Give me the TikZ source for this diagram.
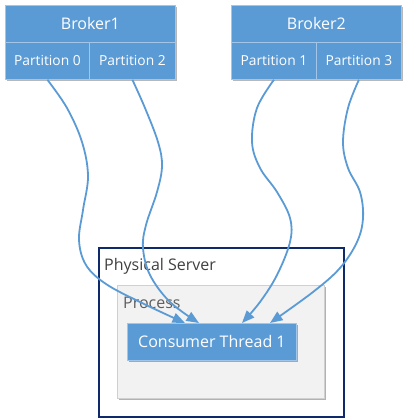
\documentclass[tikz,border=0pt]{standalone}
\usepackage{fontspec}
\setmainfont{Open Sans}
\usetikzlibrary{arrows.meta,shadows,calc}
\definecolor{ofblue}{HTML}{5B9BD5}
\definecolor{edgeblue}{HTML}{A3C6E8}
\definecolor{navy}{HTML}{0F2A6B}
\definecolor{procfill}{HTML}{F2F2F2}
\definecolor{procedge}{HTML}{D0D0D0}
\definecolor{txtgray}{HTML}{404040}
\begin{document}
\begin{tikzpicture}[x=1pt,y=-1pt,
  bluebox/.style={draw=edgeblue, fill=ofblue, line width=0.8pt, text=white, inner sep=0pt, anchor=north west},
  hdr/.style={bluebox, minimum height=37pt, font=\fontsize{16}{19}\selectfont},
  part/.style={bluebox, minimum height=37pt, font=\fontsize{13.8}{16}\selectfont},
  sh/.style={drop shadow={shadow xshift=1.6pt, shadow yshift=-1.6pt, opacity=0.3, fill=black}},
  serverbox/.style={draw=navy, line width=1.6pt, fill=white, anchor=north west, inner sep=0pt},
  procbox/.style={draw=procedge, fill=procfill, line width=0.8pt, anchor=north west, inner sep=0pt, sh},
  lbl/.style={text=txtgray, anchor=base west, inner sep=0pt, font=\fontsize{16}{19}\selectfont},
  arr/.style={draw=ofblue, line width=1.8pt, -{Triangle[length=12.5pt,width=10pt]}},
  curve/.style={smooth, tension=0.6}]
\useasboundingbox (0,0) rectangle (409,419);
% broker shadows
\fill[black,opacity=0.28] (6.6,6.6) rectangle (176.6,80.6);
\fill[black,opacity=0.28] (232.6,6.6) rectangle (402.6,80.6);
% Broker1
\node[hdr, minimum width=170pt] (b1) at (5,5) {Broker1};
\node[part, minimum width=84pt] (p0) at (5,42) {Partition 0};
\node[part, minimum width=86pt] (p2) at (89,42) {Partition 2};
% Broker2
\node[hdr, minimum width=170pt] (b2) at (231,5) {Broker2};
\node[part, minimum width=85pt] (p1) at (231,42) {Partition 1};
\node[part, minimum width=85pt] (p3) at (316,42) {Partition 3};
% Physical server
\node[serverbox, minimum width=245pt, minimum height=169pt] (srv) at (98,247) {};
\node[lbl] (srvl) at (104,270) {Physical Server};
% Process
\node[procbox, minimum width=207pt, minimum height=113pt] (proc) at (117,285) {};
\node[lbl, text=txtgray!85] (procl) at (123,308) {Process};
% Consumer thread
\node[bluebox, sh, minimum width=169pt, minimum height=37pt, font=\fontsize{16}{19}\selectfont] (ct) at (127,323) {Consumer Thread 1};
\coordinate (e0) at ($(ct.north west)+(58,0)$);
\coordinate (e2) at ($(ct.north west)+(72,0)$);
\coordinate (e1) at ($(ct.north west)+(115,0)$);
\coordinate (e3) at ($(ct.north west)+(143,0)$);
% connectors
\draw[arr] plot[curve] coordinates {(p0.south) (67,108) (82,142) (88,176) (83,210) (79,240) (86,265) (106,284) (142,303) (e0)};
\draw[arr] plot[curve] coordinates {(p2.south) (145,108) (158,142) (162,166) (157,192) (146,225) (143,248) (150,275) (170,302) (e2)};
\draw[arr] plot[curve] coordinates {(p1.south) (257,108) (252,142) (260,168) (277,192) (290,218) (290,242) (277,275) (260,302) (e1)};
\draw[arr] plot[curve] coordinates {(p3.south) (348,108) (343,142) (348,168) (360,192) (363,218) (357,242) (340,268) (313,292) (e3)};
\end{tikzpicture}
\end{document}
